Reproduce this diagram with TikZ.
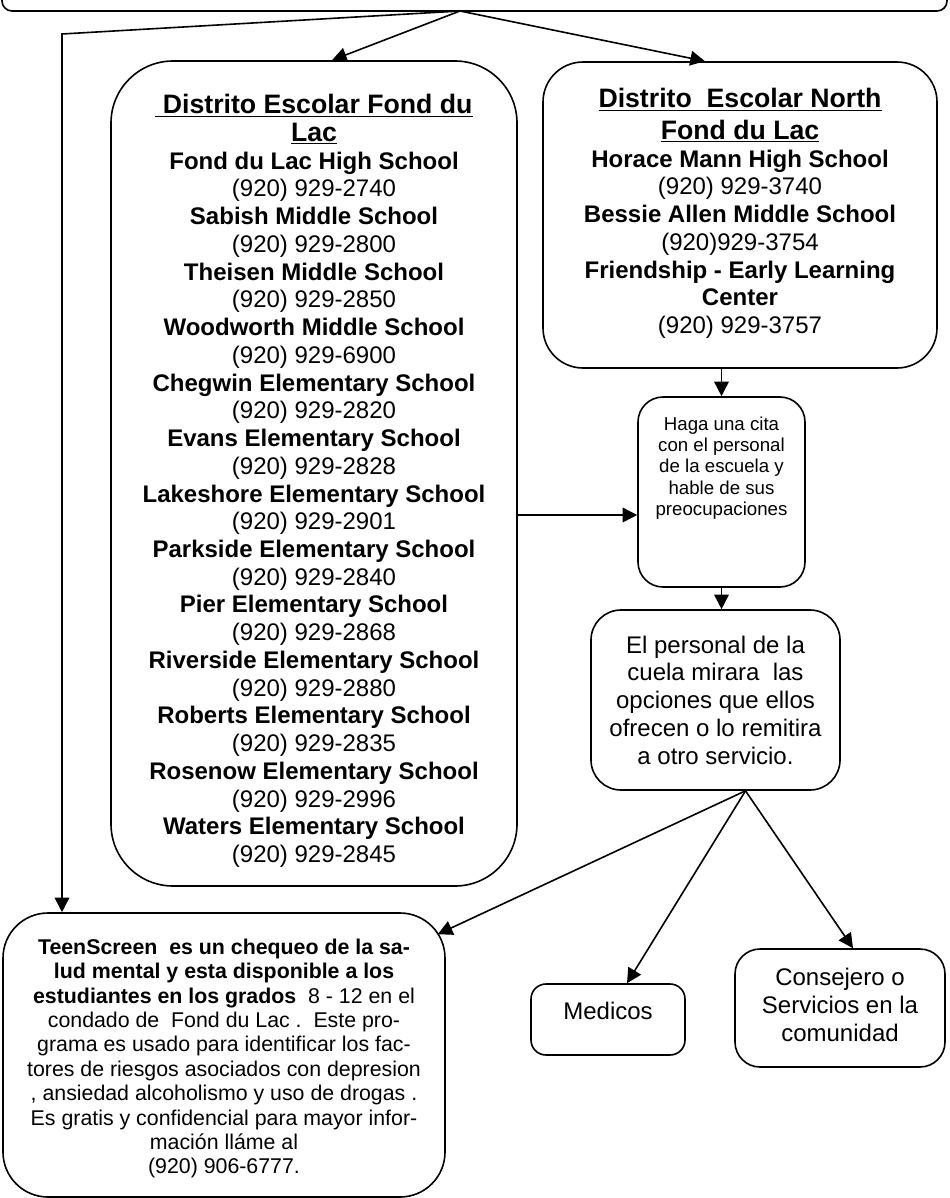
\documentclass[tikz,border=0pt]{standalone}
\usepackage{fontspec}
\setmainfont{Liberation Sans}
\usetikzlibrary{arrows.meta,calc}
\begin{document}
\begin{tikzpicture}[x=0.75pt,y=-0.75pt,
  box/.style={draw, line width=1.2pt, inner sep=0pt},
  arr/.style={line width=1.2pt, -{Triangle[length=11pt,width=11pt]}},
  lbl/.style={align=center, inner sep=0pt}]
\useasboundingbox (0,0) rectangle (949,1198);
\begin{scope}
\clip (0,0) rectangle (949,1198);
\node[box, rounded corners=7.5pt, minimum width=708.75pt, minimum height=38.25pt] (top) at (474.5,-14.5) {};
\end{scope}
% boxes
\node[box, rounded corners=46.5pt, minimum width=304.5pt, minimum height=618.75pt] (fdl) at (314,473.5) {};
\node[box, rounded corners=30pt, minimum width=295.5pt, minimum height=229.5pt] (nfdl) at (740,215) {};
\node[box, rounded corners=18.75pt, minimum width=125.25pt, minimum height=142.5pt] (haga) at (721.5,492) {};
\node[box, rounded corners=22.5pt, minimum width=186.75pt, minimum height=135pt] (pers) at (715.5,700) {};
\node[box, rounded corners=33.75pt, minimum width=331.5pt, minimum height=213pt] (teen) at (224,1055) {};
\node[box, rounded corners=11.25pt, minimum width=115.5pt, minimum height=53.25pt] (med) at (608,1019.5) {};
\node[box, rounded corners=18.75pt, minimum width=157.5pt, minimum height=88.5pt] (cons) at (840,1008) {};
% texts
\node[lbl, font=\fontsize{18}{20.8}\selectfont] (fdlt) at (314,481) {%
{\fontsize{20}{20.8}\selectfont\bfseries\underline{\ Distrito Escolar Fond du}}\\
{\fontsize{20}{20.8}\selectfont\bfseries\underline{Lac}}\\
\textbf{Fond du Lac High School}\\
(920) 929-2740\\
\textbf{Sabish Middle School}\\
(920) 929-2800\\
\textbf{Theisen Middle School}\\
(920) 929-2850\\
\textbf{Woodworth Middle School}\\
(920) 929-6900\\
\textbf{Chegwin Elementary School}\\
(920) 929-2820\\
\textbf{Evans Elementary School}\\
(920) 929-2828\\
\textbf{Lakeshore Elementary School}\\
(920) 929-2901\\
\textbf{Parkside Elementary School}\\
(920) 929-2840\\
\textbf{Pier Elementary School}\\
(920) 929-2868\\
\textbf{Riverside Elementary School}\\
(920) 929-2880\\
\textbf{Roberts Elementary School}\\
(920) 929-2835\\
\textbf{Rosenow Elementary School}\\
(920) 929-2996\\
\textbf{Waters Elementary School}\\
(920) 929-2845};
\node[lbl, font=\fontsize{18}{20.8}\selectfont] (nfdlt) at (740,213.5) {%
{\fontsize{20}{20.8}\selectfont\bfseries\underline{Distrito\ \ Escolar North}}\\[3pt]
{\fontsize{20}{20.8}\selectfont\bfseries\underline{Fond du Lac}}\\
\textbf{Horace Mann High School}\\
(920) 929-3740\\
\textbf{Bessie Allen Middle School}\\
(920)929-3754\\
\textbf{Friendship - Early Learning}\\
\textbf{Center}\\
(920) 929-3757};
\node[lbl, font=\fontsize{14}{16}\selectfont] (hagat) at (721.5,468) {%
Haga una cita\\con el personal\\de la escuela y\\hable de sus\\preocupaciones};
\node[lbl, font=\fontsize{18}{20.8}\selectfont] (perst) at (715.5,700) {%
El personal de la\\cuela mirara\ \ las\\opciones que ellos\\ofrecen o lo remitira\\a otro servicio.};
\node[lbl, font=\fontsize{16}{18.3}\selectfont] (teent) at (224,1058.5) {%
\textbf{TeenScreen\ \ es un chequeo de la sa-}\\
\textbf{lud mental y esta disponible a los}\\
\textbf{estudiantes en los grados}\ \ 8 - 12 en el\\
condado de\ \ Fond du Lac .\ \ Este pro-\\
grama es usado para identificar los fac-\\
tores de riesgos asociados con depresion\\
, ansiedad alcoholismo y uso de drogas .\\
Es gratis y confidencial para mayor infor-\\
mación lláme al\\
(920) 906-6777.};
\node[lbl, font=\fontsize{18}{20.8}\selectfont] (medt) at (608,1011) {Medicos};
\node[lbl, font=\fontsize{18}{20.8}\selectfont] (const) at (840,1005) {Consejero o\\Servicios en la\\comunidad};
% connectors
\coordinate (src) at (460,11);
\coordinate (bend) at (62,34);
\draw[arr] (src) -- ([xshift=13.5pt]fdl.north);
\draw[arr] (src) -- ([xshift=-26.25pt]nfdl.north);
\draw[arr] (src) -- (bend) -- (bend |- teen.north);
\draw[arr] (haga.north |- nfdl.south) -- (haga.north);
\coordinate (hw) at ([yshift=-17.25pt]haga.west);
\draw[arr] (fdl.east |- hw) -- (hw);
\draw[arr] (haga.south) -- (haga.south |- pers.north);
\coordinate (pb) at ([xshift=22.5pt]pers.south);
\draw[arr] (pb) -- ([xshift=-6pt,yshift=-16.5pt]teen.north east);
\draw[arr] (pb) -- ([xshift=14.25pt]med.north);
\draw[arr] (pb) -- ([xshift=9.75pt]cons.north);
\end{tikzpicture}
\end{document}
